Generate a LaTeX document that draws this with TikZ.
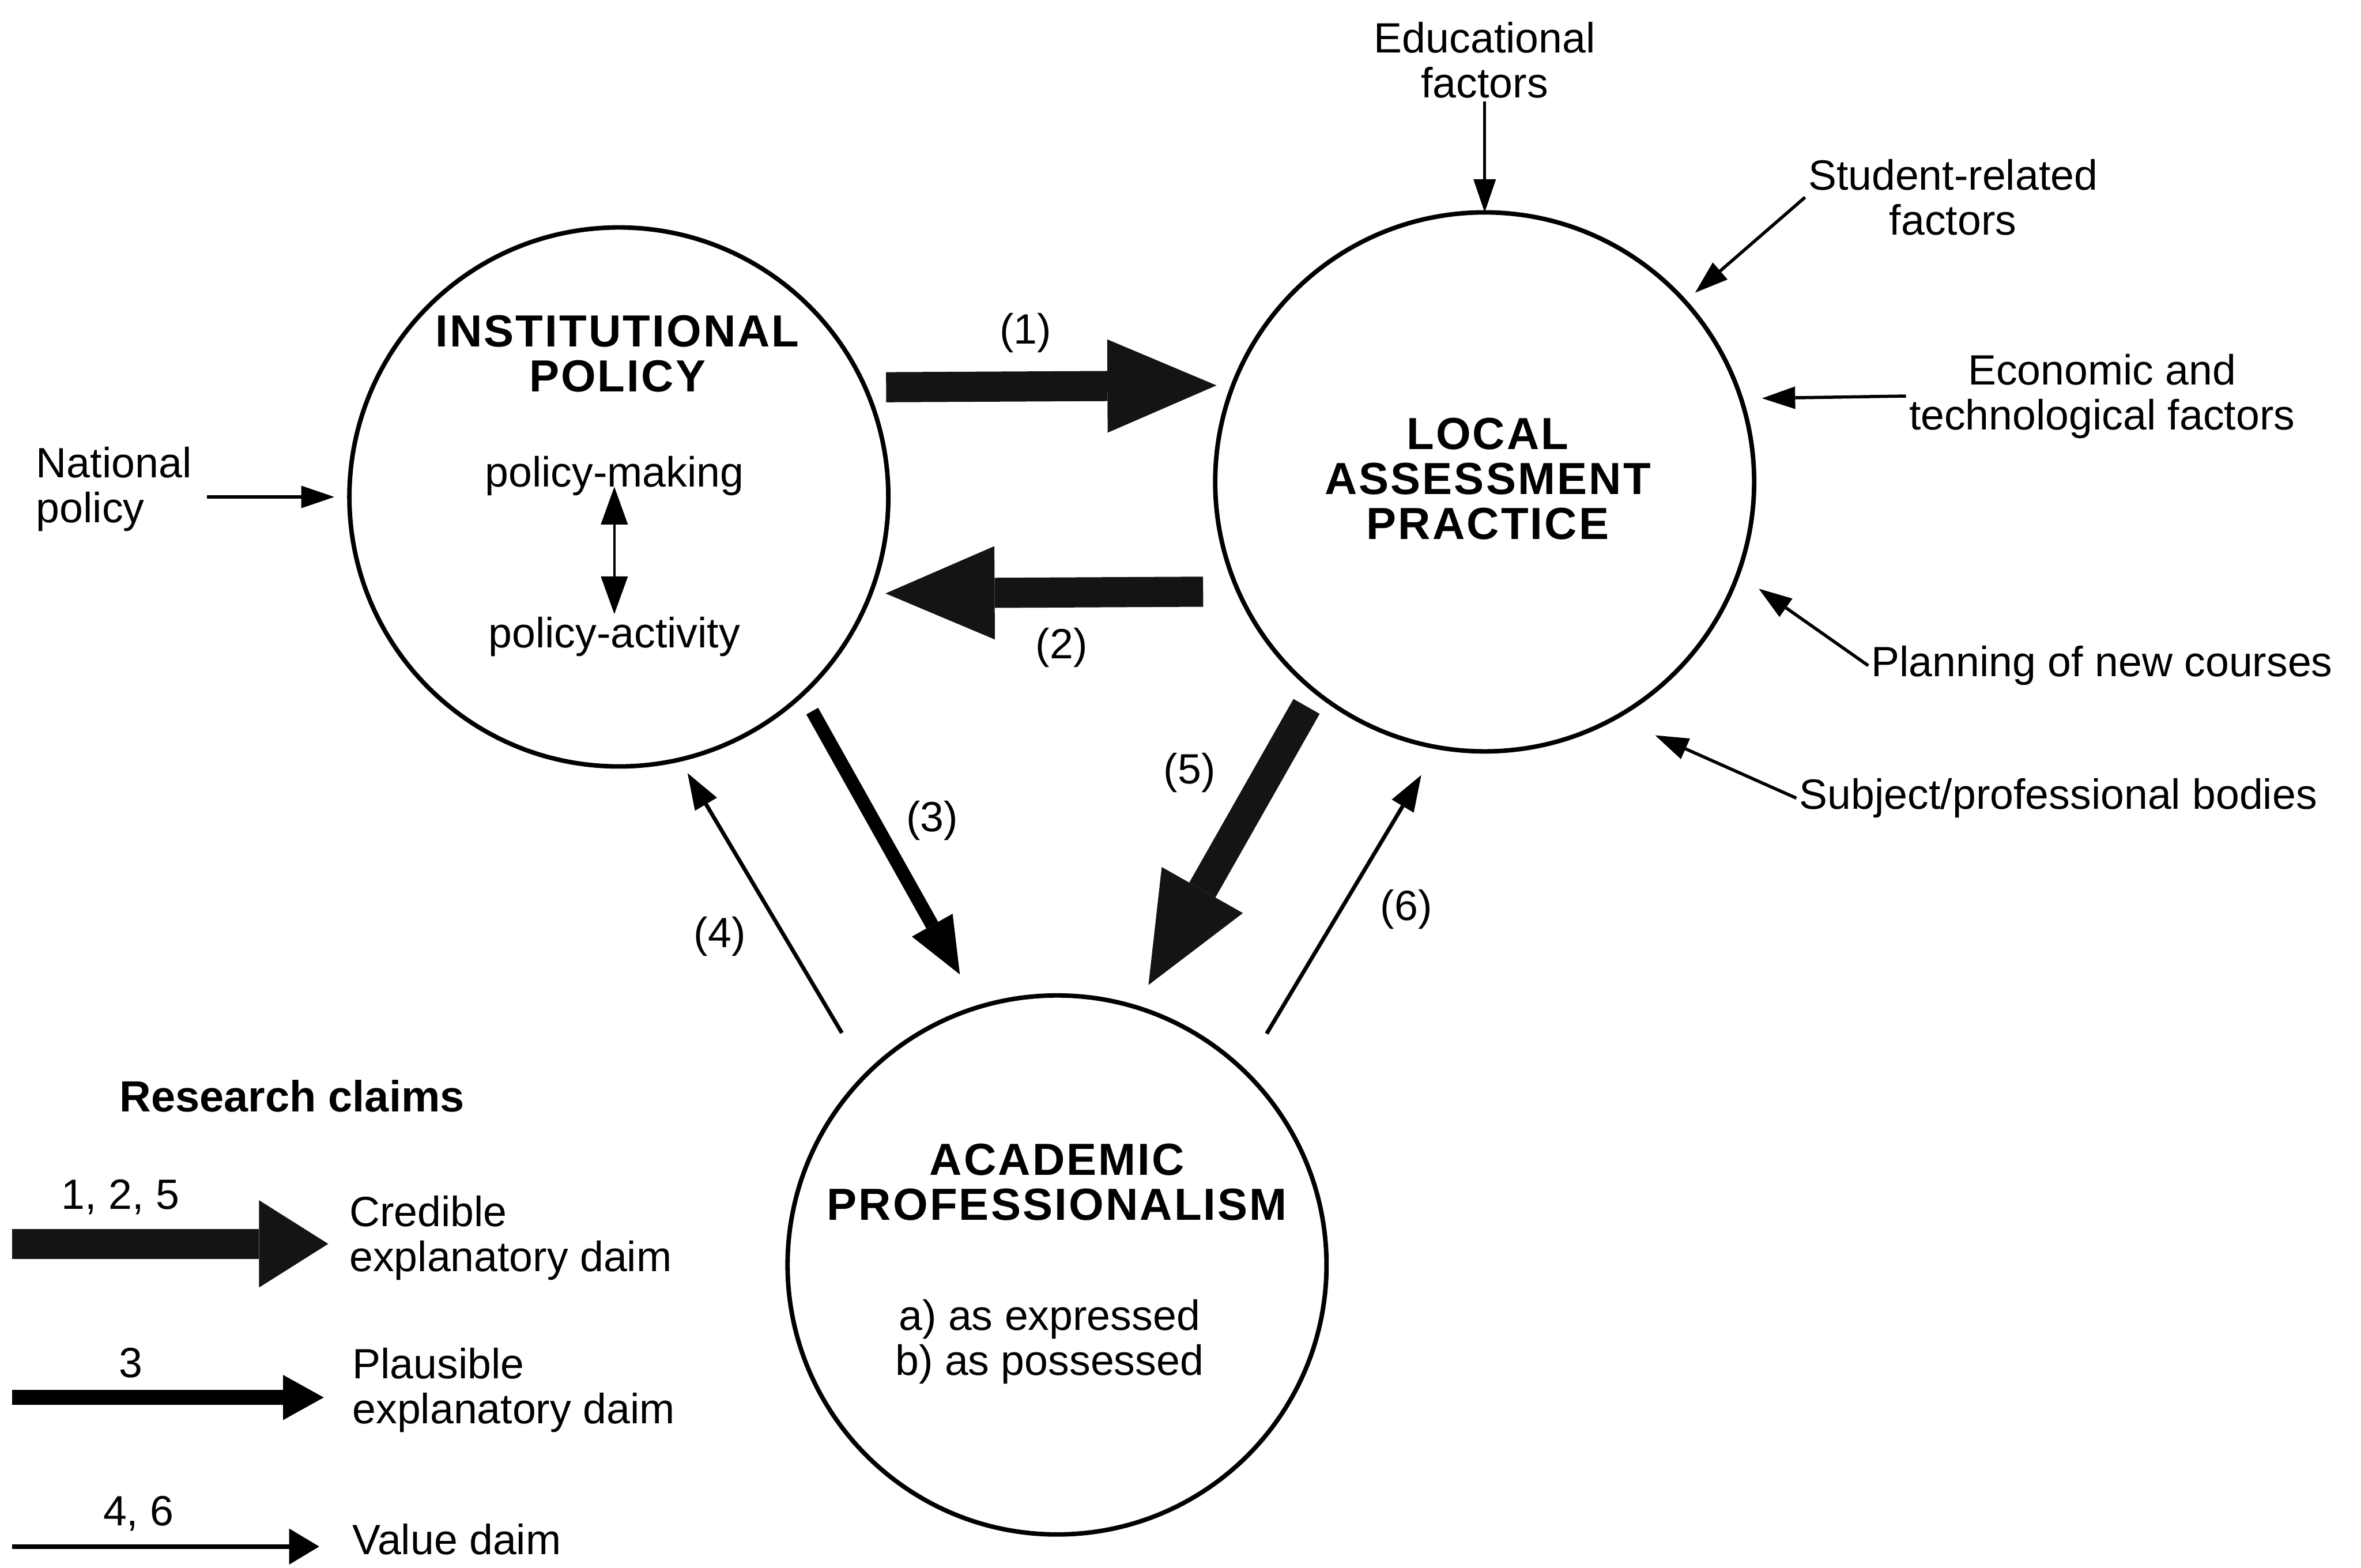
\documentclass[tikz,border=0pt]{standalone}
\usepackage{fontspec}
\setmainfont{Liberation Sans}
\newfontfamily\titlefont[LetterSpace=4]{Liberation Sans}
\usetikzlibrary{positioning,arrows.meta}

\begin{document}
\begin{tikzpicture}
[x=0.02cm, y=-0.02cm,
    font=\fontsize{16}{17}\selectfont,
    every node/.style={inner sep=1pt, align=center},
    bigcircle/.style={circle, draw, line width=1.7pt, minimum size=7.16cm,
    inner sep=0pt, outer sep=0pt},
    headtext/.style={font=\titlefont\bfseries\fontsize{17}{17}\selectfont},
    credible/.style={black!92, line width=0.4cm,
    -{Triangle[length=1.45cm, width=1.24cm, line width=0pt]}},
    plausible/.style={line width=0.18cm,
    -{Triangle[length=0.75cm, width=0.62cm, line width=0pt]}},
    valueclaim/.style={line width=1.5pt,
    -{Triangle[length=0.48cm, width=0.34cm, line width=0pt]}},
    factor/.style={line width=1.2pt,
    -{Triangle[length=0.44cm, width=0.3cm, line width=0pt]}},
    pair/.style={line width=1pt,
    {Triangle[length=0.5cm, width=0.36cm, line width=0pt]}-{Triangle[length=0.5cm, width=0.36cm, line width=0pt]}},
    ]
    \useasboundingbox (0,0) rectangle (1568,1041);

    % the three circles
    \node[bigcircle] (ip) at (411,330) {};
    \node[bigcircle] (lap) at (986,320) {};
    \node[bigcircle] (ap) at (702,840) {};

    \node[headtext] (ipT) at (410,235) {INSTITUTIONAL\\POLICY};
    \node (pm) at (408,316) {policy-making};
    \node (pa) at (408,423) {policy-activity};
    \draw[pair] (pm.base) -- (pa.north);

    \node[headtext] (lapT) at (988,318) {LOCAL\\ASSESSMENT\\PRACTICE};

    \node[headtext] (apT) at (702,785) {ACADEMIC\\PROFESSIONALISM};
    \node (apS) at (697,891) {a) as expressed\\b) as possessed};

    % claims between circles
    \draw[credible, shorten <=0.28cm, shorten >=0.22cm] (ip.24) -- (lap.159);
    \draw[credible, shorten <=0.47cm, shorten >=0.2cm] (lap.204.8) -- (ip.-21.3);
    \draw[credible, shorten <=0.23cm, shorten >=0.34cm] (lap.231) -- (ap.73.4);
    \draw[plausible, shorten <=0.26cm, shorten >=0.5cm] (ip.-47.7) -- (ap.107);
    \draw[valueclaim, shorten <=0.64cm, shorten >=0.21cm] (ap.135) -- (ip.-77.5);
    \draw[valueclaim, shorten <=0.58cm, shorten >=0.43cm] (ap.46) -- (lap.-100.4);

    \node (l1) at (681,221) {(1)};
    \node (l2) at (705,430) {(2)};
    \node (l3) at (619,545) {(3)};
    \node (l4) at (478,622) {(4)};
    \node (l5) at (790,513) {(5)};
    \node (l6) at (934,604) {(6)};

    % outside factors
    \node (edu) at (986,40) {Educational\\factors};
    \node (stu) at (1297,131) {Student-related\\factors};
    \node (eco) at (1396,263) {Economic and\\technological factors};
    \node (plan) at (1396,442) {Planning of new courses};
    \node (sub) at (1367,530) {Subject/professional bodies};
    \node[anchor=west, align=left] (nat) at (22,325) {National\\policy};

    \draw[factor] (edu.south) -- (lap.north);
    \draw[factor, shorten >=0.18cm] (stu.west) -- (lap.42);
    \draw[factor, shorten >=0.28cm] (eco.west) -- (lap.18);
    \draw[factor, shorten >=0.34cm] (plan.west) -- (lap.-20.8);
    \draw[factor, shorten >=0.58cm] (sub.west) -- (lap.-61.6);
    \draw[factor, shorten <=0.16cm, shorten >=0.2cm] (nat.east |- ip.west) -- (ip.west);

    % legend
    \node[font=\bfseries\fontsize{16.5}{17}\selectfont] (rc) at (194,728) {Research claims};

    \coordinate (cs) at (8,826);
    \coordinate (ce) at (218,826);
    \coordinate (ps) at (8,928);
    \coordinate (pe) at (215,928);
    \coordinate (vs) at (8,1027);
    \coordinate (ve) at (212,1027);

    \node (n125) at (80,795) {1, 2, 5};
    \node (n3) at (87,905) {3};
    \node (n46) at (92,1005) {4, 6};

    \draw[credible, -{Triangle[length=0.92cm, width=1.16cm, line width=0pt]}] (cs) -- (ce);
    \draw[plausible, line width=0.2cm, -{Triangle[length=0.54cm, width=0.6cm, line width=0pt]}] (ps) -- (pe);
    \draw[valueclaim, line width=1.7pt, -{Triangle[length=0.4cm, width=0.48cm, line width=0pt]}] (vs) -- (ve);

    \node[anchor=west, align=left] (cred) at (230,822) {Credible\\explanatory daim};
    \node[anchor=west, align=left] (plaus) at (232,923) {Plausible\\explanatory daim};
    \node[anchor=west] (val) at (232,1022) {Value daim};

\end{tikzpicture}
\end{document}
